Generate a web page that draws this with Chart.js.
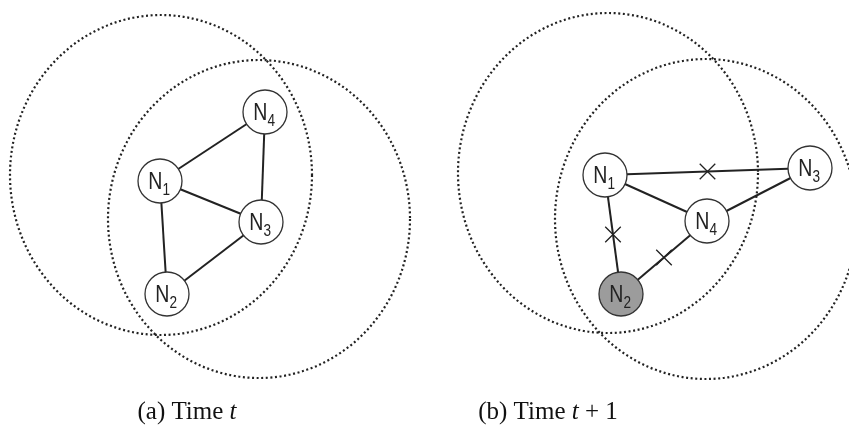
<!DOCTYPE html>
<html>
<head>
<meta charset="utf-8">
<script src="https://cdn.jsdelivr.net/npm/chart.js@4/dist/chart.umd.min.js"></script>
<style>
  html, body { margin: 0; padding: 0; background: #fff; }
  #wrap { width: 849px; height: 432px; position: relative; }
</style>
</head>
<body>
<div id="wrap"><canvas id="grafo"></canvas></div>
<script>
// --- Datos: nodos, enlaces y zonas de cobertura ---
const nodeNames = ['1', '2', '3', '4'];

// Panel (a): tiempo t
const nodeXA = [160, 167, 261, 265];
const nodeYA = [181, 294, 222, 112];
const edgesA = [[0, 3], [2, 3], [0, 2], [0, 1], [1, 2]];

// Panel (b): tiempo t + 1
const nodeXB = [605, 621, 810, 707];
const nodeYB = [175, 294, 168, 221];
const edgesB = [[0, 2], [0, 3], [3, 2], [0, 1], [1, 3]];
const brokenB = [[0, 2], [0, 1], [1, 3]];   // enlaces que se cortan (marcados con X)
const shadedB = [1];                        // N2 sombreado

// Zonas de cobertura (elipses punteadas): centro x, centro y, radio x, radio y
const rangeCX = [161, 259, 608, 706];
const rangeCY = [175, 219, 173, 219];
const rangeRX = [151, 151, 150, 151];
const rangeRY = [160, 159, 160, 160];

const captions = [
    { x: 187, parts: [['(a) Time ', false], ['t', true]] },
    { x: 548, parts: [['(b) Time ', false], ['t', true], [' + 1', false]] }
];

const INK = '#222';

function edgeDatasets(xs, ys, edges) {
    return edges.map(([a, b]) => ({
        type: 'scatter',
        data: [{ x: xs[a], y: ys[a] }, { x: xs[b], y: ys[b] }],
        showLine: true,
        borderColor: INK,
        borderWidth: 2,
        pointRadius: 0,
        order: 3,
        clip: false
    }));
}

function nodeDataset(xs, ys, shaded) {
    return {
        type: 'scatter',
        data: xs.map((x, i) => ({ x: x, y: ys[i] })),
        pointRadius: 22,
        pointHoverRadius: 22,
        pointBackgroundColor: xs.map((x, i) => shaded.includes(i) ? '#9c9c9c' : '#ffffff'),
        pointBorderColor: '#333',
        pointBorderWidth: 1.3,
        order: 1,
        clip: false
    };
}

// Marcas X en el punto medio de los enlaces rotos
const crossData = brokenB.map(([a, b]) => ({
    x: (nodeXB[a] + nodeXB[b]) / 2,
    y: (nodeYB[a] + nodeYB[b]) / 2
}));

const datasets = [
    ...edgeDatasets(nodeXA, nodeYA, edgesA),
    ...edgeDatasets(nodeXB, nodeYB, edgesB),
    {
        type: 'scatter',
        data: crossData,
        pointStyle: 'crossRot',
        pointRadius: 11,
        pointBorderColor: INK,
        pointBorderWidth: 1.3,
        order: 2,
        clip: false
    },
    nodeDataset(nodeXA, nodeYA, []),
    nodeDataset(nodeXB, nodeYB, shadedB)
];

// Plugin: elipses punteadas, etiquetas de nodos y leyendas
const diagramPlugin = {
    id: 'diagram',
    beforeDatasetsDraw(chart) {
        const { ctx, scales: { x, y } } = chart;
        ctx.save();
        ctx.strokeStyle = '#222';
        ctx.lineWidth = 2.2;
        ctx.setLineDash([2, 2.6]);
        rangeCX.forEach((cx, i) => {
            const px = x.getPixelForValue(cx);
            const py = y.getPixelForValue(rangeCY[i]);
            const rx = x.getPixelForValue(cx + rangeRX[i]) - px;
            const ry = y.getPixelForValue(rangeCY[i] + rangeRY[i]) - py;
            ctx.beginPath();
            ctx.ellipse(px, py, Math.abs(rx), Math.abs(ry), 0, 0, Math.PI * 2);
            ctx.stroke();
        });
        ctx.restore();
    },
    afterDatasetsDraw(chart) {
        const { ctx, scales: { x, y } } = chart;
        ctx.save();
        ctx.fillStyle = '#222';
        ctx.textBaseline = 'alphabetic';
        const drawLabels = (xs, ys) => {
            xs.forEach((vx, i) => {
                const px = x.getPixelForValue(vx);
                const py = y.getPixelForValue(ys[i]);
                ctx.save();
                ctx.translate(px, py);
                ctx.scale(0.85, 1);
                ctx.font = '23px "Liberation Sans", Arial, sans-serif';
                const wN = ctx.measureText('N').width;
                ctx.font = '16px "Liberation Sans", Arial, sans-serif';
                const wS = ctx.measureText(nodeNames[i]).width;
                const left = -(wN + wS) / 2 - 1;
                ctx.font = '23px "Liberation Sans", Arial, sans-serif';
                ctx.textAlign = 'left';
                ctx.fillText('N', left, 8);
                ctx.font = '16px "Liberation Sans", Arial, sans-serif';
                ctx.fillText(nodeNames[i], left + wN, 14);
                ctx.restore();
            });
        };
        drawLabels(nodeXA, nodeYA);
        drawLabels(nodeXB, nodeYB);

        // Leyendas (a) y (b)
        ctx.fillStyle = '#111';
        captions.forEach(c => {
            let total = 0;
            c.parts.forEach(([t, it]) => {
                ctx.font = (it ? 'italic ' : '') + '25px "Liberation Serif", "Times New Roman", serif';
                total += ctx.measureText(t).width;
            });
            let cx = x.getPixelForValue(c.x) - total / 2;
            const cy = y.getPixelForValue(419);
            c.parts.forEach(([t, it]) => {
                ctx.font = (it ? 'italic ' : '') + '25px "Liberation Serif", "Times New Roman", serif';
                ctx.textAlign = 'left';
                ctx.fillText(t, cx, cy);
                cx += ctx.measureText(t).width;
            });
        });
        ctx.restore();
    }
};

new Chart(document.getElementById('grafo'), {
    type: 'scatter',
    data: { datasets: datasets },
    options: {
        responsive: true,
        maintainAspectRatio: false,
        animation: false,
        layout: { padding: 0, autoPadding: false },
        plugins: {
            legend: { display: false },
            tooltip: { enabled: false },
            title: { display: false }
        },
        scales: {
            x: { type: 'linear', min: 0, max: 849, display: false },
            y: { type: 'linear', min: 0, max: 432, reverse: true, display: false }
        }
    },
    plugins: [diagramPlugin]
});
</script>
</body>
</html>
